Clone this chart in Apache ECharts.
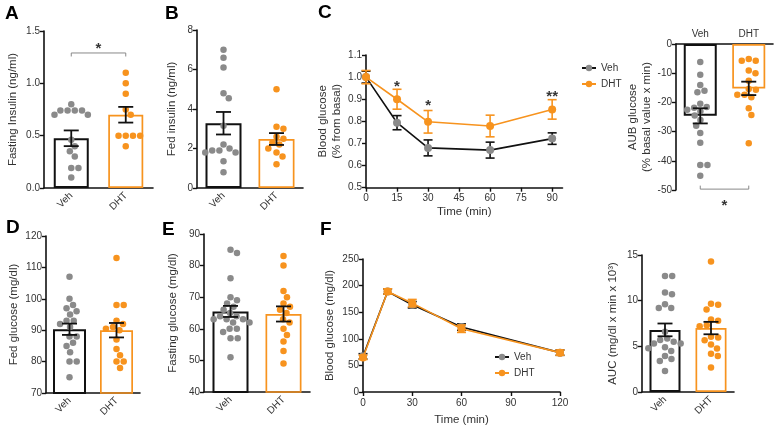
<!DOCTYPE html>
<html><head><meta charset="utf-8">
<script src="https://cdn.jsdelivr.net/npm/echarts@6/dist/echarts.min.js"></script>
<style>html,body{margin:0;padding:0;background:#fff}#c{width:778px;height:428px}</style>
</head><body><div id="c"></div>
<script>
// ---------------- DATA ----------------
const groups = ['Veh', 'DHT'];
// A: Fasting insulin (ng/ml)
const aMeans = [0.475, 0.70];
const aSems = [0.075, 0.075];
const aVeh = [0.80, 0.74, 0.74, 0.74, 0.74, 0.70, 0.70, 0.46, 0.40, 0.35, 0.30, 0.19, 0.19, 0.10];
const aDht = [1.10, 1.00, 0.90, 0.75, 0.70, 0.50, 0.50, 0.50, 0.50, 0.40];
// B: Fed insulin (ng/ml)
const bMeans = [3.28, 2.48];
const bSems = [0.57, 0.30];
const bVeh = [7.0, 6.6, 6.1, 4.8, 4.55, 3.15, 2.2, 2.0, 1.9, 1.8, 1.8, 1.9, 1.35, 0.8];
const bDht = [5.0, 3.1, 3.0, 2.6, 2.5, 2.3, 2.2, 2.0, 1.8, 1.6, 1.2];
// C: ITT, blood glucose (% from basal)
const cTime = [0, 15, 30, 60, 90];
const cVeh = [1.0, 0.794, 0.680, 0.670, 0.722];
const cVehSem = [0.027, 0.032, 0.036, 0.036, 0.026];
const cDht = [1.0, 0.900, 0.798, 0.779, 0.854];
const cDhtSem = [0.030, 0.045, 0.051, 0.049, 0.044];
const cStars = [[15, 0.958, '*'], [30, 0.872, '*'], [90, 0.910, '**']];
const cTicks = [0, 15, 30, 45, 60, 75, 90];
// AUB glucose
const aubMeans = [-24.6, -15.2];
const aubSems = [2.6, 2.3];
const aubVeh = [-6.2, -10.5, -14, -16, -16.5, -20.5, -21.6, -21.8, -22.5, -23, -24.5, -26, -28, -30.5, -33.8, -41.4, -41.4, -45.1];
const aubDht = [-5.7, -5.7, -5.1, -10, -9.1, -12.6, -15.7, -15.4, -17.4, -18.2, -17.4, -22, -24.3, -34];
// D: Fed glucose (mg/dl)
const dMeans = [90.3, 90.0];
const dSems = [1.8, 2.3];
const dVeh = [107, 100, 98, 97, 96, 95, 93, 93, 92, 91, 88, 88, 86, 85, 83, 80, 80, 75];
const dDht = [113, 98, 98, 93, 92, 91, 90.5, 90, 87, 84, 82, 80, 80, 78];
// E: Fasting glucose (mg/dl)
const eMeans = [65.5, 64.7];
const eSems = [1.75, 2.4];
const eVeh = [85, 84, 76, 70, 69, 68, 67, 66, 65, 64, 64, 63, 63, 63, 62, 62, 60, 60, 59, 57, 57, 51];
const eDht = [83, 80, 72, 70, 68, 67, 66, 65, 63, 62, 60, 58, 56, 53, 49];
// F: GTT blood glucose (mg/dl)
const fTime = [0, 15, 30, 60, 120];
const fVeh = [67, 189, 164, 122, 74];
const fVehSem = [5, 5, 6, 6, 5];
const fDht = [65, 189, 167, 119, 74];
const fDhtSem = [4, 5, 7, 7, 5];
// AUC (mg/dl x min x 10^3)
const aucMeans = [6.8, 7.0];
const aucSems = [0.7, 0.68];
const aucVeh = [12.7, 12.7, 10.7, 10.9, 9.2, 9.2, 9.6, 6.6, 5.85, 5.7, 5.5, 5.3, 5.3, 4.9, 4.8, 4.5, 3.6, 3.95, 3.4, 2.3];
const aucDht = [14.3, 9.66, 9.55, 9.04, 7.8, 7.94, 7.3, 7.2, 5.96, 6.04, 5.2, 5.67, 4.76, 4.2, 3.95, 2.67];

// ---------------- STYLE ----------------
const ORANGE = '#F7931E', GRAY = '#8a8a8a', INK = '#111', TXT = '#333';
const FONT = '"Liberation Sans", Arial, sans-serif';

const grids = [], xAxis = [], yAxis = [], series = [];

function swarm(vals, lo, hi, hPx, d) {
  const pts = vals.map((v, i) => ({ i, y: (v - lo) / (hi - lo) * hPx, x: 0 }));
  const order = pts.slice().sort((a, b) => b.y - a.y);
  const placed = [];
  for (const p of order) {
    const cands = [0];
    for (const q of placed) {
      const dy = p.y - q.y;
      if (Math.abs(dy) < d) { const dx = Math.sqrt(d * d - dy * dy); cands.push(q.x + dx + 0.01, q.x - dx - 0.01); }
    }
    cands.sort((a, b) => Math.abs(a) - Math.abs(b));
    for (const c of cands) {
      if (placed.every(q => (q.x - c) ** 2 + (q.y - p.y) ** 2 >= d * d - 0.02)) { p.x = c; break; }
    }
    placed.push(p);
  }
  return pts.map(p => p.x);
}

function errRender(color, capPx, lw) {
  return function (params, api) {
    const x = api.value(0), m = api.value(1), s = api.value(2);
    const t = api.coord([x, m + s]), b = api.coord([x, m - s]);
    const h = capPx / 2, st = { stroke: color, lineWidth: lw };
    return { type: 'group', children: [
      { type: 'line', shape: { x1: t[0], y1: t[1], x2: b[0], y2: b[1] }, style: st },
      { type: 'line', shape: { x1: t[0] - h, y1: t[1], x2: t[0] + h, y2: t[1] }, style: st },
      { type: 'line', shape: { x1: b[0] - h, y1: b[1], x2: b[0] + h, y2: b[1] }, style: st }
    ] };
  };
}
function bracketRender(tick) {
  return function (params, api) {
    const a = api.coord([api.value(0), api.value(2)]), b = api.coord([api.value(1), api.value(2)]);
    return { type: 'polyline', shape: { points: [[a[0], a[1] + tick], [a[0], a[1]], [b[0], b[1]], [b[0], b[1] + tick]] },
      style: { stroke: '#888', lineWidth: 1, fill: null } };
  };
}
function yAx(gi, min, max, interval, name, nameGap, fmt) {
  return { type: 'value', gridIndex: gi, min, max, interval, name, nameLocation: 'middle', nameGap, nameRotate: 90,
    nameTextStyle: { fontSize: 11.5, color: TXT, fontFamily: FONT, lineHeight: 14 },
    axisLine: { show: true, onZero: false, lineStyle: { color: INK, width: 1.6 } },
    axisTick: { show: true, length: 4, lineStyle: { color: INK, width: 1.4 } },
    axisLabel: { fontSize: 10, color: TXT, margin: 4, fontFamily: FONT, formatter: fmt },
    splitLine: { show: false } };
}
function starSeries(xi, yi, pts) {
  series.push({ type: 'scatter', xAxisIndex: xi, yAxisIndex: yi, symbolSize: 1, clip: false, silent: true, z: 5,
    itemStyle: { color: 'rgba(0,0,0,0)' },
    label: { show: true, position: 'inside', formatter: p => p.data[2], fontSize: 15, fontWeight: 'bold', color: '#000', fontFamily: FONT },
    data: pts });
}

function barPanel(c) {
  const gi = grids.length;
  grids.push({ left: c.left, top: c.top, width: c.width, height: c.height });
  const xc = xAxis.length;
  xAxis.push({ type: 'category', gridIndex: gi, data: groups, position: c.topAxis ? 'top' : 'bottom',
    axisLine: { onZero: false, lineStyle: { color: INK, width: 1.6 } },
    axisTick: { alignWithLabel: true, length: 4, lineStyle: { color: INK, width: 1.4 } },
    axisLabel: { rotate: c.rotate || 0, fontSize: 10, color: TXT, margin: c.labelMargin || 6, fontFamily: FONT } });
  const xv = xAxis.length;
  xAxis.push({ type: 'value', gridIndex: gi, min: 0, max: 2, show: false });
  const yi = yAxis.length;
  yAxis.push(yAx(gi, c.min, c.max, c.interval, c.name, c.nameGap, c.fmt));
  series.push({ type: 'bar', xAxisIndex: xc, yAxisIndex: yi, barWidth: c.barWidth, silent: true, z: 1,
    data: c.means.map((m, i) => ({ value: m, itemStyle: { color: 'rgba(255,255,255,0)', borderColor: i ? ORANGE : INK, borderWidth: i ? 1.7 : 2 } })) });
  const pxX = c.width / 2;
  [c.veh, c.dht].forEach((vals, k) => {
    const off = swarm(vals, c.min, c.max, c.height, 7.2);
    series.push({ type: 'scatter', xAxisIndex: xv, yAxisIndex: yi, symbolSize: 6.5, silent: true, z: 2,
      itemStyle: { color: k ? ORANGE : GRAY, opacity: 1 },
      data: vals.map((v, i) => [k + 0.5 + off[i] / pxX, v]) });
  });
  series.push({ type: 'custom', xAxisIndex: xv, yAxisIndex: yi, z: 3, silent: true, renderItem: errRender(INK, 15, 1.8),
    data: c.means.map((m, i) => [i + 0.5, m, c.sems[i]]) });
  return { gi, xv, yi };
}

function linePanel(c) {
  const gi = grids.length;
  grids.push({ left: c.left, top: c.top, width: c.width, height: c.height });
  const xi = xAxis.length;
  xAxis.push({ type: 'value', gridIndex: gi, min: c.xmin, max: c.xmax, interval: c.xint,
    name: 'Time (min)', nameLocation: 'middle', nameGap: c.xNameGap,
    nameTextStyle: { fontSize: 11.5, color: TXT, fontFamily: FONT },
    axisLine: { onZero: false, lineStyle: { color: INK, width: 1.6 } },
    axisTick: { length: 4, lineStyle: { color: INK, width: 1.4 }, customValues: c.xTicks },
    axisLabel: { fontSize: 10, color: TXT, margin: 6, fontFamily: FONT, customValues: c.xTicks },
    splitLine: { show: false } });
  const yi = yAxis.length;
  yAxis.push(yAx(gi, c.min, c.max, c.interval, c.name, c.nameGap, c.fmt));
  [[c.veh, c.vehSem, INK, GRAY, 'Veh'], [c.dht, c.dhtSem, ORANGE, ORANGE, 'DHT']].forEach(([vals, sems, lc, mc, nm], k) => {
    series.push({ type: 'custom', xAxisIndex: xi, yAxisIndex: yi, z: 2 + k * 2, silent: true, renderItem: errRender(lc, 9, 1.6),
      data: vals.map((v, i) => [c.time[i], v, sems[i]]) });
    series.push({ type: 'line', name: nm, xAxisIndex: xi, yAxisIndex: yi, z: 3 + k * 2, silent: true,
      symbol: 'circle', symbolSize: 8, showSymbol: true,
      lineStyle: { color: lc, width: 1.6 }, itemStyle: { color: mc },
      data: vals.map((v, i) => [c.time[i], v]) });
  });
  return { gi, xi, yi };
}

// ---------------- PANELS ----------------
const f1 = v => v.toFixed(1);
const pA = barPanel({ left: 44, top: 31, width: 109, height: 157, min: 0, max: 1.5, interval: 0.5, fmt: f1,
  name: 'Fasting Insulin (ng/ml)', nameGap: 24, means: aMeans, sems: aSems, veh: aVeh, dht: aDht, barWidth: 35, rotate: 45 });
series.push({ type: 'custom', xAxisIndex: pA.xv, yAxisIndex: pA.yi, clip: false, silent: true, z: 4, renderItem: bracketRender(3.5), data: [[0.5, 1.5, 1.29]] });
starSeries(pA.xv, pA.yi, [[1.0, 1.33, '*']]);

barPanel({ left: 197, top: 30, width: 106, height: 158, min: 0, max: 8, interval: 2,
  name: 'Fed insulin (ng/ml)', nameGap: 18, means: bMeans, sems: bSems, veh: bVeh, dht: bDht, barWidth: 36, rotate: 45 });

const pC = linePanel({ left: 366, top: 55, width: 196.5, height: 132.7, xmin: 0, xmax: 95, xint: 15, xTicks: cTicks, xNameGap: 18,
  min: 0.5, max: 1.1, interval: 0.1, fmt: f1, name: 'Blood glucose\n(% from basal)', nameGap: 21,
  time: cTime, veh: cVeh, vehSem: cVehSem, dht: cDht, dhtSem: cDhtSem });
starSeries(pC.xi, pC.yi, cStars);

const pAub = barPanel({ left: 676, top: 44, width: 97, height: 146, min: -50, max: 0, interval: 10,
  name: 'AUB glucose\n(% basal value x min)', nameGap: 22, means: aubMeans, sems: aubSems, veh: aubVeh, dht: aubDht, barWidth: 33, topAxis: true, labelMargin: 5 });
series.push({ type: 'custom', xAxisIndex: pAub.xv, yAxisIndex: pAub.yi, clip: false, silent: true, z: 4, renderItem: bracketRender(-3.5), data: [[0.5, 1.5, -49.7]] });
starSeries(pAub.xv, pAub.yi, [[1.0, -55.4, '*']]);

barPanel({ left: 46, top: 236, width: 94, height: 157, min: 70, max: 120, interval: 10,
  name: 'Fed glucose (mg/dl)', nameGap: 25, means: dMeans, sems: dSems, veh: dVeh, dht: dDht, barWidth: 33, rotate: 45 });

barPanel({ left: 204, top: 234, width: 106, height: 158, min: 40, max: 90, interval: 10,
  name: 'Fasting glucose (mg/dl)', nameGap: 24, means: eMeans, sems: eSems, veh: eVeh, dht: eDht, barWidth: 36, rotate: 45 });

linePanel({ left: 363, top: 259, width: 197, height: 133, xmin: 0, xmax: 120, xint: 30, xTicks: [0, 30, 60, 90, 120], xNameGap: 22,
  min: 0, max: 250, interval: 50, name: 'Blood glucose (mg/dl)', nameGap: 26,
  time: fTime, veh: fVeh, vehSem: fVehSem, dht: fDht, dhtSem: fDhtSem });

barPanel({ left: 642, top: 255, width: 92, height: 137, min: 0, max: 15, interval: 5,
  name: 'AUC (mg/dl x min x 10³)', nameGap: 22, means: aucMeans, sems: aucSems, veh: aucVeh, dht: aucDht, barWidth: 31, rotate: 45 });

const letter = (t, x, y) => ({ type: 'text', left: x, top: y, style: { text: t, font: 'bold 19px ' + FONT, fill: '#000' } });
const legendCommon = { data: ['Veh', 'DHT'], orient: 'vertical', itemWidth: 14, itemHeight: 8, itemGap: 6,
  textStyle: { fontSize: 10, color: TXT, fontFamily: FONT }, selectedMode: false };

const chart = echarts.init(document.getElementById('c'));
chart.setOption({
  animation: false,
  backgroundColor: '#fff',
  textStyle: { fontFamily: FONT },
  grid: grids, xAxis, yAxis, series,
  legend: [Object.assign({ left: 576, top: 58 }, legendCommon), Object.assign({ left: 489, top: 347 }, legendCommon)],
  graphic: [letter('A', 5, 4), letter('B', 165, 4), letter('C', 318, 3), letter('D', 6, 218), letter('E', 162, 220), letter('F', 320, 220)]
});
</script></body></html>
